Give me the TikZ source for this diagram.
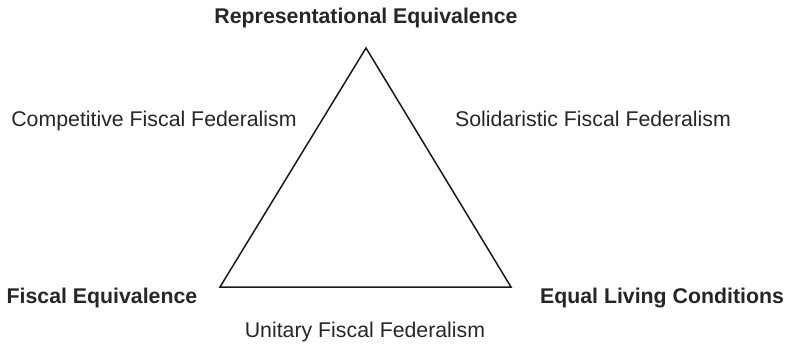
\documentclass[tikz,border=0pt]{standalone}
\usepackage{fontspec}
\setmainfont{Liberation Sans}
\begin{document}
\begin{tikzpicture}[x=1pt,y=-1pt,
  lbl/.style={inner sep=0pt,anchor=base,font=\fontsize{21.3}{24}\selectfont,text=black!85},
  blbl/.style={lbl,font=\fontsize{21.3}{24}\selectfont\bfseries},
  edge/.style={draw=black!90,line width=1.5pt,line join=miter}]
\useasboundingbox (0,0) rectangle (787,345);
\coordinate (top) at (366,48);
\coordinate (bl) at (220,287);
\coordinate (br) at (511,287);
\draw[edge] (top) -- (br) -- (bl) -- cycle;
\node[blbl] (re) at (366,24) {Representational Equivalence};
\node[blbl] (fe) at (102,303) {Fiscal Equivalence};
\node[blbl] (elc) at (662,303) {Equal Living Conditions};
\node[lbl] (cff) at (154,126) {Competitive Fiscal Federalism};
\node[lbl] (sff) at (593,126) {Solidaristic Fiscal Federalism};
\node[lbl] (uff) at (365,337) {Unitary Fiscal Federalism};
\end{tikzpicture}
\end{document}
